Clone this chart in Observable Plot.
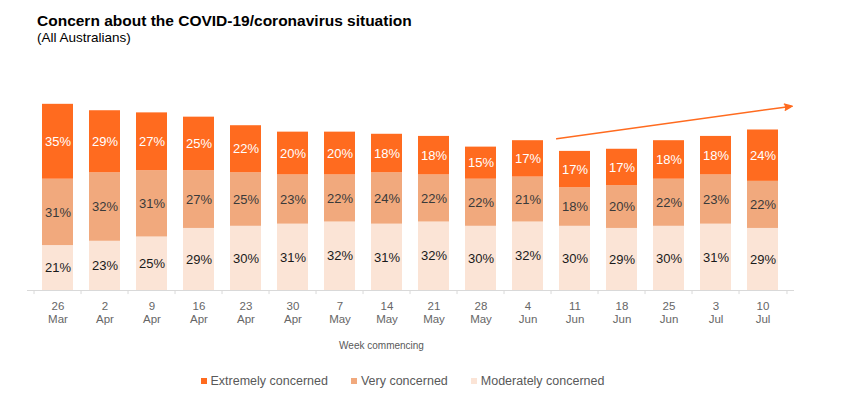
<!DOCTYPE html>
<html><head><meta charset="utf-8">
<script src="https://cdn.jsdelivr.net/npm/d3@7"></script>
<script src="https://cdn.jsdelivr.net/npm/@observablehq/plot@0.6"></script>
<style>
body{margin:0;background:#fff;font-family:'Liberation Sans',Arial,sans-serif;}
#wrap{position:relative;width:850px;height:397px;overflow:hidden;background:#fff;}
#head{height:50px;padding-left:37px;box-sizing:border-box;padding-top:12px;}
#title{font-weight:bold;font-size:15.5px;line-height:18px;color:#000;white-space:nowrap;}
#sub{font-size:13.5px;line-height:15px;color:#000;}
#chart svg{display:block;}
#legend{display:flex;align-items:center;padding-left:201px;height:42px;font-size:12.5px;color:#595959;}
.item{display:flex;align-items:center;margin-right:23.5px;white-space:nowrap;}
.sw{width:5.5px;height:5.5px;margin-right:4px;}
</style></head>
<body><div id="wrap">
<div id="head"><div id="title">Concern about the COVID-19/coronavirus situation</div><div id="sub">(All Australians)</div></div>
<div id="chart"></div>
<div id="legend"></div>
</div>
<script>
const weeks = ["26 Mar","2 Apr","9 Apr","16 Apr","23 Apr","30 Apr","7 May","14 May","21 May","28 May","4 Jun","11 Jun","18 Jun","25 Jun","3 Jul","10 Jul"];
const series = ["Moderately concerned","Very concerned","Extremely concerned"];
const moderately = [21,23,25,29,30,31,32,31,32,30,32,30,29,30,31,29];
const very = [31,32,31,27,25,23,22,24,22,22,21,18,20,22,23,22];
const extremely = [35,29,27,25,22,20,20,18,18,15,17,17,17,18,18,24];
const colors = ["#FBE4D6","#F1A97D","#FF6B1F"];
const labelColors = ["#1a1a1a","#3a3a3a","#ffffff"];
const legendOrder = ["Extremely concerned","Very concerned","Moderately concerned"];
const xTitle = "Week commencing";
const trendArrow = [{fromWeek:"11 Jun", fromValue:72.06, toWeek:"10 Jul", toValue:84.25}];

const valuesBySeries = [moderately, very, extremely];
const rows = series.flatMap((s, k) => weeks.map((w, i) => ({week: w, series: s, value: valuesBySeries[k][i]})));

const W = 850, H = 310, ML = 27, MR = 56, MT = 26, MB = 70;
const step = (W - ML - MR) / weeks.length;
const orange = colors[2];

const plot = Plot.plot({
  width: W, height: H,
  marginLeft: ML, marginRight: MR, marginTop: MT, marginBottom: MB,
  style: {fontFamily: "'Liberation Sans',Arial,sans-serif", background: "#fff", color: "#595959"},
  x: {domain: weeks, paddingInner: 0.33, paddingOuter: 0.165, axis: null},
  y: {domain: [0, 100], axis: null},
  color: {domain: series, range: colors},
  marks: [
    Plot.barY(rows, {x: "week", y: "value", fill: "series"}),
    ...series.map((s, k) => Plot.text(rows, Plot.stackY({
      x: "week", y: "value", z: "series",
      text: d => d.series === s ? d.value + "%" : null,
      fill: labelColors[k], fontSize: 13
    }))),
    Plot.ruleY([0], {stroke: "#d9d9d9"}),
    Plot.ruleX(weeks, {x: d => d, y1: 0, y2: -1.9, dx: -step / 2, stroke: "#d9d9d9"}),
    Plot.ruleX(weeks.slice(-1), {x: d => d, y1: 0, y2: -1.9, dx: step / 2, stroke: "#d9d9d9"}),
    Plot.axisX({
      tickSize: 0, tickPadding: 9.5, lineHeight: 1.17,
      tickFormat: d => d.replace(" ", "\n"),
      fontSize: 11.5, fontFamily: "'Liberation Sans Narrow','Arial Narrow','Liberation Sans',sans-serif",
      fill: "#666666",
      label: null
    }),
    Plot.text([xTitle], {frameAnchor: "bottom", text: d => d, dy: 54.8, dx: -29.5, lineAnchor: "middle", fontSize: 10, fill: "#595959"}),
    Plot.arrow(trendArrow, {
      x1: "fromWeek", y1: "fromValue", x2: "toWeek", y2: "toValue",
      insetStart: -18.5, insetEnd: -29.5,
      stroke: orange, fill: orange, strokeWidth: 1.5, headLength: 8, headAngle: 45
    })
  ]
});
document.getElementById("chart").append(plot);

const legend = document.getElementById("legend");
legendOrder.forEach(name => {
  const item = document.createElement("div");
  item.className = "item";
  const sw = document.createElement("div");
  sw.className = "sw";
  sw.style.background = colors[series.indexOf(name)];
  const t = document.createElement("span");
  t.textContent = name;
  item.append(sw, t);
  legend.append(item);
});
</script>
</body></html>
